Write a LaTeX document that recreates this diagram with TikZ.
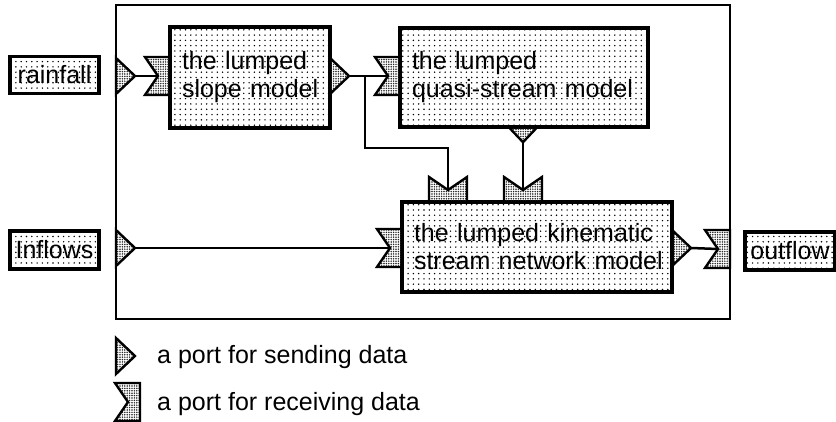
\documentclass[tikz,border=0pt]{standalone}
\usepackage{fontspec}
\setmainfont{Liberation Sans}
\usetikzlibrary{patterns.meta}
\tikzdeclarepattern{
  name=boxdots,
  type=uncolored,
  bounding box={(-2.65pt,-2.65pt) and (2.65pt,2.65pt)},
  tile size={(5.3pt,5.3pt)},
  code={\fill (0pt,0pt) circle [radius=0.8pt];}
}
\tikzdeclarepattern{
  name=portdots,
  type=uncolored,
  bounding box={(-1.2pt,-1.2pt) and (1.2pt,1.2pt)},
  tile size={(2.4pt,2.4pt)},
  code={\fill (0pt,0pt) circle [radius=0.85pt];}
}
\tikzset{
  boxfont/.style={font=\fontsize{25}{28}\selectfont},
  modelbox/.style={draw, line width=3.2pt, pattern=boxdots, pattern color=black,
    boxfont, align=left, inner xsep=12pt, inner ysep=0pt},
  labelbox/.style={draw, line width=3.2pt, pattern=boxdots, pattern color=black,
    boxfont, inner sep=0pt},
  framebox/.style={draw, line width=2.5pt, inner sep=0pt},
  portstyle/.style={draw, line width=2.4pt, line join=miter, pattern=portdots, pattern color=black!85},
  wire/.style={line width=2.5pt},
  legendtext/.style={font=\fontsize{25}{28}\selectfont, anchor=west, inner sep=0pt},
  pics/recvport/.style={code={
    \filldraw[portstyle] (-25,-19) -- (0,-19) -- (0,19) -- (-25,19) -- (-12,0) -- cycle;
    \coordinate (-notch) at (-12,0);
  }},
  pics/sendport/.style={code={
    \filldraw[portstyle] (0,-18) -- (19,0) -- (0,18) -- cycle;
    \coordinate (-tip) at (19,0);
  }}
}
\begin{document}
\begin{tikzpicture}[x=1pt,y=-1pt]
\useasboundingbox (0,0) rectangle (836,422);

% outer frame
\node[framebox, minimum width=614pt, minimum height=314pt] (frame) at (423,162) {};

% external data boxes
\node[labelbox, minimum width=89pt, minimum height=37pt] (rain) at (54.5,75) {rainfall};
\node[labelbox, minimum width=89pt, minimum height=38pt] (inflows) at (54.5,250) {Inflows};
\node[labelbox, minimum width=90pt, minimum height=38pt] (outflow) at (790,251) {outflow};

% model boxes
\node[modelbox, minimum width=160pt, minimum height=101pt, text width=136pt] (slope) at (250,77.5) {\mbox{the lumped}\\\mbox{slope model}};
\node[modelbox, minimum width=248pt, minimum height=99pt, text width=224pt] (quasi) at (524,77.5) {\mbox{the lumped}\\\mbox{quasi-stream model}};
\node[modelbox, minimum width=270pt, minimum height=90pt, text width=246pt] (stream) at (537,247) {\mbox{the lumped kinematic}\\\mbox{stream network model}};

% ports
\pic (fin1) at (116,76) {sendport};
\pic (fin2) at (116,248) {sendport};
\pic (slopein) at (170,76) {recvport};
\pic (slopeout) at (330,76) {sendport};
\pic (quasiin) at (400,76) {recvport};
\pic[rotate=-90, scale=0.8] (quasiout) at (523,127) {sendport};
\pic[rotate=-90] (stop1) at (448,202) {recvport};
\pic[rotate=-90] (stop2) at (523,202) {recvport};
\pic (streamin) at (402,248) {recvport};
\pic (streamout) at (672,248) {sendport};
\pic (fout) at (730,249) {recvport};

% connectors
\coordinate (junc) at (365,76);
\coordinate (bend) at (365,148);
\draw[wire] (fin1-tip) -- (slopein-notch);
\draw[wire] (slopeout-tip) -- (quasiin-notch);
\draw[wire] (junc) -- (bend) -| (stop1-notch);
\draw[wire] (quasiout-tip) -- (stop2-notch);
\draw[wire] (fin2-tip) -- (streamin-notch);
\draw[wire] (streamout-tip) -- (fout-notch);

% legend
\pic (legsend) at (116,356) {sendport};
\pic (legrecv) at (140,402) {recvport};
\node[legendtext] (legsendtxt) at (157,357) {a port for sending data};
\node[legendtext] (legrecvtxt) at (157,404) {a port for receiving data};
\end{tikzpicture}
\end{document}
